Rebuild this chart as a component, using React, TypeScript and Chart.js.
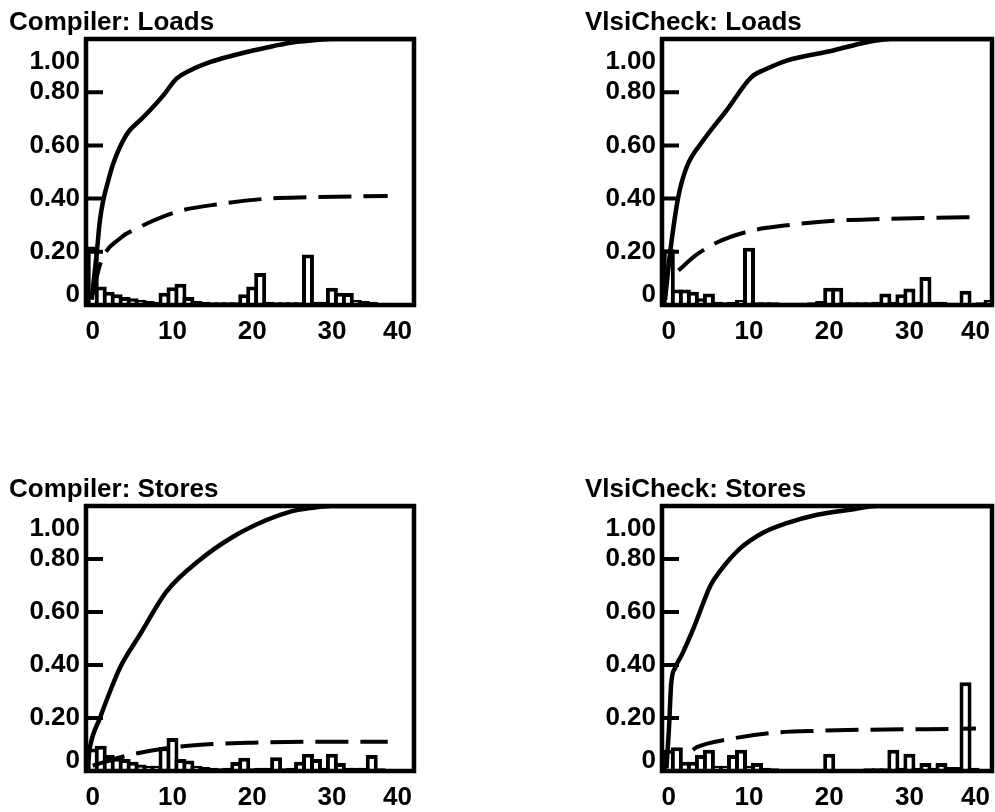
import { useEffect, useRef } from "react";
import { Chart, registerables } from "chart.js";

Chart.register(...registerables);

// ---- data ----
const binPositions = [0, 1, 2, 3, 4, 5, 6, 7, 8, 9, 10, 11, 12, 13, 14, 15, 16, 17, 18, 19, 20, 21, 22, 23, 24, 25, 26, 27, 28, 29, 30, 31, 32, 33, 34, 35, 36, 37, 38, 39, 40];

const yTickValues = [0, 0.2, 0.4, 0.6, 0.8, 1.0];
const yTickLabels = ["0", "0.20", "0.40", "0.60", "0.80", "1.00"];
const xTickValues = [0, 10, 20, 30, 40];
const xTickLabels = ["0", "10", "20", "30", "40"];

const compilerLoadsBars = [0.22, 0.07, 0.05, 0.04, 0.03, 0.025, 0.02, 0.015, 0.012, 0.046, 0.067, 0.08, 0.03, 0.015, 0.012, 0.01, 0.01, 0.01, 0.01, 0.04, 0.07, 0.12, 0.012, 0.01, 0.01, 0.01, 0.01, 0.19, 0.012, 0.012, 0.065, 0.046, 0.045, 0.02, 0.015, 0.012, 0.008, 0.006, 0.006, 0.005, 0.005];
const compilerLoadsSolid = [[-0.14, 0.02], [0.49, 0.194], [0.9, 0.319], [1.32, 0.394], [1.95, 0.469], [2.57, 0.532], [3.41, 0.594], [4.45, 0.65], [5.92, 0.694], [7.18, 0.732], [8.85, 0.788], [10.5, 0.851], [12.2, 0.882], [14.7, 0.913], [17.6, 0.938], [20.1, 0.957], [22.6, 0.973], [25.2, 0.988], [27.7, 0.995], [30, 1.0], [40, 1.0]];
const compilerLoadsDashed = [[0, 0.04], [1, 0.16], [3.6, 0.255], [5, 0.28], [10.5, 0.35], [16, 0.38], [22, 0.4], [27, 0.405], [37, 0.41]];

const vlsiLoadsBars = [0.21, 0.058, 0.058, 0.05, 0.025, 0.043, 0.012, 0.01, 0.012, 0.02, 0.215, 0.01, 0.01, 0.01, 0.008, 0.008, 0.008, 0.008, 0.01, 0.015, 0.065, 0.065, 0.01, 0.01, 0.01, 0.01, 0.012, 0.043, 0.012, 0.04, 0.062, 0.012, 0.105, 0.012, 0.012, 0.008, 0.008, 0.054, 0.006, 0.01, 0.02];
const vlsiLoadsSolid = [[-0.47, 0.02], [0.15, 0.194], [1.18, 0.406], [2.23, 0.519], [4.3, 0.619], [7.2, 0.732], [10.3, 0.857], [12.2, 0.888], [14.7, 0.919], [20.5, 0.957], [24.7, 0.988], [27.7, 1.0], [40, 1.0]];
const vlsiLoadsDashed = [[1.2, 0.13], [3.5, 0.19], [6, 0.235], [10.4, 0.28], [14.8, 0.3], [20.6, 0.317], [26.4, 0.323], [33, 0.328], [38.9, 0.33]];

const compilerStoresBars = [0.085, 0.095, 0.06, 0.05, 0.045, 0.035, 0.025, 0.02, 0.02, 0.09, 0.125, 0.045, 0.04, 0.02, 0.015, 0.012, 0.01, 0.012, 0.034, 0.05, 0.01, 0.012, 0.012, 0.052, 0.01, 0.012, 0.035, 0.065, 0.045, 0.012, 0.065, 0.03, 0.012, 0.012, 0.012, 0.06, 0.01, 0.006, 0, 0, 0];
const compilerStoresSolid = [[-0.69, 0.01], [-0.35, 0.09], [0.9, 0.2], [2.16, 0.3], [3.41, 0.39], [5.92, 0.515], [9.27, 0.678], [13.45, 0.797], [17.6, 0.884], [21.8, 0.947], [24.7, 0.978], [27.25, 0.992], [30, 1.0], [40, 1.0]];
const compilerStoresDashed = [[0, 0.02], [4.3, 0.058], [9, 0.085], [14, 0.1], [20, 0.107], [27, 0.11], [37, 0.11]];

const vlsiStoresBars = [0.08, 0.09, 0.035, 0.035, 0.06, 0.08, 0.02, 0.02, 0.06, 0.08, 0.02, 0.03, 0.012, 0.01, 0.006, 0.006, 0.006, 0.006, 0.008, 0.008, 0.065, 0.006, 0.006, 0.006, 0.008, 0.01, 0.01, 0.01, 0.08, 0.012, 0.065, 0.012, 0.03, 0.012, 0.03, 0.015, 0.015, 0.335, 0.012, 0.005, 0];
const vlsiStoresSolid = [[-0.3, 0.01], [0, 0.15], [0.3, 0.33], [0.8, 0.39], [1.65, 0.44], [3.1, 0.54], [5.2, 0.7], [6.4, 0.755], [8.9, 0.84], [11.8, 0.9], [14.7, 0.935], [18.5, 0.967], [22.6, 0.986], [26, 1.0], [40, 1.0]];
const vlsiStoresDashed = [[3.0, 0.08], [3.5, 0.09], [7.5, 0.12], [13, 0.144], [18.8, 0.152], [25, 0.156], [32, 0.158], [38.3, 0.16]];

const FONT = 'bold 26px "Liberation Sans", Arial, Helvetica, sans-serif';

const framePlugin = {
  id: "frame",
  afterDatasetsDraw(chart: any, _args: any, opts: any) {
    const { ctx, chartArea: a, scales } = chart;
    const x = scales.x;
    const y = scales.y;
    ctx.save();
    ctx.strokeStyle = "#000";
    ctx.lineWidth = 4.5;
    ctx.strokeRect(a.left, a.top, a.right - a.left, a.bottom - a.top);
    // inner tick marks on the y axis
    ctx.lineWidth = 4;
    ctx.beginPath();
    yTickValues.forEach((v) => {
      if (v > y.min && v < y.max) {
        const py = y.getPixelForValue(v);
        ctx.moveTo(a.left, py);
        ctx.lineTo(a.left + 17, py);
      }
    });
    ctx.stroke();
    ctx.fillStyle = "#000";
    ctx.font = FONT;
    ctx.textAlign = "right";
    ctx.textBaseline = "middle";
    yTickValues.forEach((v, i) => {
      let py = y.getPixelForValue(v);
      if (v >= y.max) py = a.top + 23;
      else if (v <= y.min) py = a.bottom - 10;
      ctx.fillText(yTickLabels[i], a.left - 6, py);
    });
    ctx.textAlign = "center";
    xTickValues.forEach((v, i) => {
      let px = x.getPixelForValue(v);
      const w = ctx.measureText(xTickLabels[i]).width;
      px = Math.min(px, a.right - 2 - w / 2);
      ctx.fillText(xTickLabels[i], px, a.bottom + 27);
    });
    ctx.textAlign = "left";
    ctx.textBaseline = "alphabetic";
    ctx.fillText(opts.text, a.left - 77, a.top - 9);
    ctx.restore();
  },
};

type PanelProps = {
  title: string;
  bars: number[];
  solid: number[][];
  dashed: number[][];
  left: number;
  top: number;
  width: number;
  height: number;
  pad: { left: number; top: number; right: number; bottom: number };
};

function Panel(p: PanelProps) {
  const ref = useRef<HTMLCanvasElement | null>(null);
  useEffect(() => {
    if (!ref.current) return;
    const chart = new Chart(ref.current, {
      type: "bar",
      data: {
        datasets: [
          {
            type: "line",
            data: p.solid.map(([x, y]) => ({ x, y })),
            borderColor: "#000",
            borderWidth: 4.5,
            pointRadius: 0,
            fill: false,
            cubicInterpolationMode: "monotone",
            order: 1,
          } as any,
          {
            type: "line",
            data: p.dashed.map(([x, y]) => ({ x, y })),
            borderColor: "#000",
            borderWidth: 4,
            borderDash: [33, 12],
            borderCapStyle: "butt",
            pointRadius: 0,
            fill: false,
            cubicInterpolationMode: "monotone",
            order: 2,
          } as any,
          {
            type: "bar",
            data: p.bars.map((v, i) => ({ x: binPositions[i], y: v })),
            backgroundColor: "#fff",
            borderColor: "#000",
            borderWidth: 4,
            borderSkipped: "start",
            barPercentage: 1.5,
            categoryPercentage: 1,
            order: 3,
          } as any,
        ],
      },
      options: {
        animation: false,
        responsive: false,
        devicePixelRatio: 1,
        layout: { padding: p.pad },
        scales: {
          x: { type: "linear", min: -0.85, max: 40.3, display: false, offset: false },
          y: { type: "linear", min: 0, max: 1, display: false },
        },
        plugins: {
          legend: { display: false },
          tooltip: { enabled: false },
          frame: { text: p.title },
        } as any,
      },
      plugins: [framePlugin as any],
    });
    return () => chart.destroy();
  }, []);
  return (
    <canvas
      ref={ref}
      width={p.width}
      height={p.height}
      style={{ position: "absolute", left: p.left, top: p.top, width: p.width, height: p.height }}
    />
  );
}

export default function App() {
  return (
    <div style={{ position: "absolute", left: 0, top: 0, width: 995, height: 812, background: "#fff", overflow: "hidden" }}>
      <Panel title="Compiler: Loads" bars={compilerLoadsBars} solid={compilerLoadsSolid} dashed={compilerLoadsDashed}
        left={0} top={0} width={497} height={406} pad={{ left: 86, top: 39, right: 83, bottom: 101 }} />
      <Panel title="VlsiCheck: Loads" bars={vlsiLoadsBars} solid={vlsiLoadsSolid} dashed={vlsiLoadsDashed}
        left={497} top={0} width={498} height={406} pad={{ left: 165, top: 39, right: 3, bottom: 101 }} />
      <Panel title="Compiler: Stores" bars={compilerStoresBars} solid={compilerStoresSolid} dashed={compilerStoresDashed}
        left={0} top={406} width={497} height={406} pad={{ left: 86, top: 100, right: 83, bottom: 41 }} />
      <Panel title="VlsiCheck: Stores" bars={vlsiStoresBars} solid={vlsiStoresSolid} dashed={vlsiStoresDashed}
        left={497} top={406} width={498} height={406} pad={{ left: 165, top: 100, right: 3, bottom: 41 }} />
    </div>
  );
}
